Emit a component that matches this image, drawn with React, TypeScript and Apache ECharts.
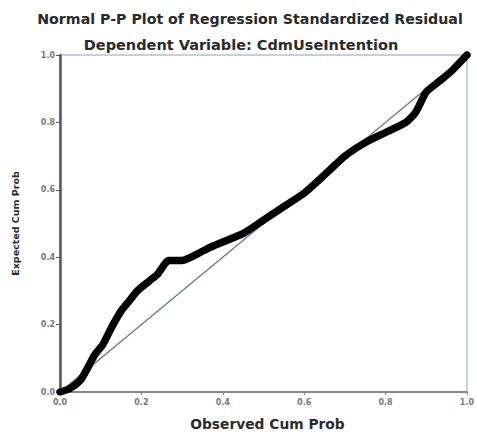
import React, { useEffect, useRef } from "react";
import * as echarts from "echarts";

// Observed cumulative probability (x) and expected cumulative probability (y)
const observedCum = [
  0.0, 0.024, 0.05, 0.065, 0.085, 0.105, 0.126, 0.15, 0.17, 0.19, 0.22, 0.24,
  0.267, 0.3, 0.33, 0.37, 0.42, 0.45, 0.5, 0.55, 0.6, 0.655, 0.7, 0.75, 0.8,
  0.85, 0.874, 0.9, 0.93, 0.96, 1.0,
];
const expectedCum = [
  0.0, 0.01, 0.035, 0.065, 0.11, 0.14, 0.19, 0.24, 0.27, 0.3, 0.33, 0.35,
  0.39, 0.39, 0.405, 0.43, 0.455, 0.47, 0.51, 0.55, 0.59, 0.65, 0.7, 0.74,
  0.77, 0.8, 0.83, 0.89, 0.92, 0.95, 1.0,
];
const diagonal = [
  [0, 0],
  [1, 1],
];
const tickValues = [0, 0.2, 0.4, 0.6, 0.8, 1.0];

export default function App() {
  const ref = useRef<HTMLDivElement>(null);

  useEffect(() => {
    if (!ref.current) return;
    const chart = echarts.init(ref.current, null, { renderer: "svg" });
    const font = "DejaVu Sans";
    chart.setOption({
      animation: false,
      backgroundColor: "#ffffff",
      title: [
        {
          text: "Normal P-P Plot of Regression Standardized Residual",
          left: 245,
          textAlign: "center",
          top: 7,
          textStyle: { fontFamily: font, fontSize: 14.2, fontWeight: "bold", color: "#2a2a2a" },
        },
        {
          text: "Dependent Variable: CdmUseIntention",
          left: 236,
          textAlign: "center",
          top: 32,
          textStyle: { fontFamily: font, fontSize: 14.5, fontWeight: "bold", color: "#2a2a2a" },
        },
      ],
      grid: {
        left: 60,
        right: 5,
        top: 55,
        bottom: 41,
        show: true,
        borderColor: "#8fa0b3",
        borderWidth: 1,
      },
      xAxis: {
        type: "value",
        min: 0,
        max: 1,
        interval: 0.2,
        name: "Observed Cum Prob",
        nameLocation: "middle",
        nameGap: 25,
        nameTextStyle: {
          fontFamily: font,
          fontSize: 13.8,
          fontWeight: "bold",
          color: "#2a2a2a",
          padding: [0, 0, 0, 8],
        },
        axisLine: { show: true, lineStyle: { color: "#888", width: 2 } },
        axisTick: { show: true, length: 3, lineStyle: { color: "#888" } },
        axisLabel: {
          fontFamily: font,
          fontSize: 8,
          color: "#777",
          fontWeight: "bold",
          margin: 6,
          formatter: (v: number) => v.toFixed(1),
        },
        splitLine: { show: false },
      },
      yAxis: {
        type: "value",
        min: 0,
        max: 1,
        interval: 0.2,
        name: "Expected Cum Prob",
        nameLocation: "middle",
        nameGap: 40,
        nameTextStyle: { fontFamily: font, fontSize: 9.5, fontWeight: "bold", color: "#2a2a2a" },
        axisLine: { show: true, lineStyle: { color: "#555", width: 2.5 } },
        axisTick: { show: true, length: 4, lineStyle: { color: "#555" } },
        axisLabel: {
          fontFamily: font,
          fontSize: 8,
          color: "#777",
          fontWeight: "bold",
          margin: 5,
          formatter: (v: number) => (tickValues.includes(v) ? v.toFixed(1) : ""),
        },
        splitLine: { show: false },
      },
      series: [
        {
          type: "line",
          data: diagonal,
          symbol: "none",
          silent: true,
          lineStyle: { color: "#6a7f95", width: 1.5 },
          z: 2,
        },
        {
          type: "line",
          data: observedCum.map((x, i) => [x, expectedCum[i]]),
          symbol: "none",
          smooth: 0.2,
          lineStyle: { color: "#000", width: 7.5, cap: "round", join: "round" },
          z: 3,
        },
      ],
    });
    return () => chart.dispose();
  }, []);

  return (
    <div
      ref={ref}
      style={{ position: "absolute", left: 0, top: 0, width: 477, height: 436 }}
    />
  );
}
